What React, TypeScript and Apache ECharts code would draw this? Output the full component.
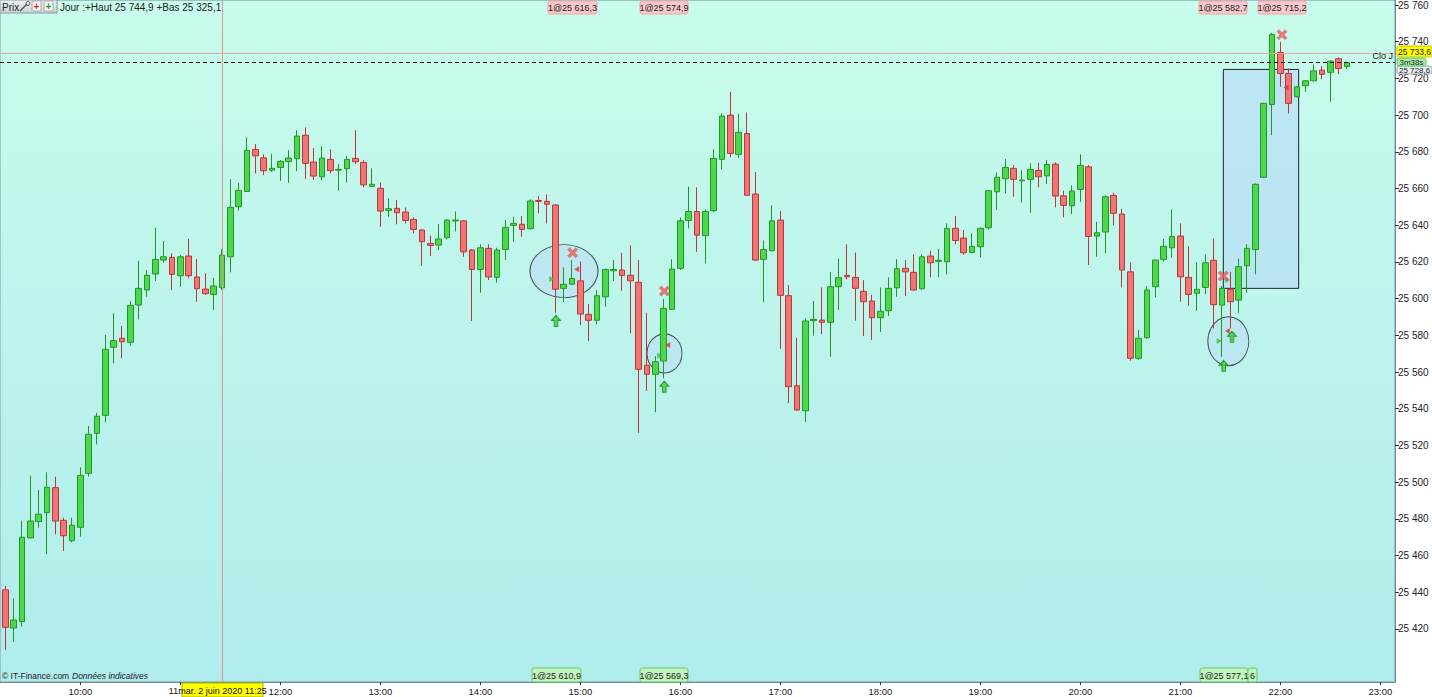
import React, { useEffect, useRef } from "react";
import * as echarts from "echarts";

// 5-minute candles, first one at 09:15 (minutes since midnight)
const START_MIN = 555;
const STEP_MIN = 5;

const opens = [
  25441.3, 25420.5, 25424.0, 25469.6, 25478.5, 25483.4, 25497.0, 25479.2, 25468.1, 25475.4,
  25504.8, 25526.6, 25536.4, 25573.5, 25578.4, 25576.2, 25596.5, 25604.7, 25613.4, 25621.0,
  25622.5, 25612.5, 25623.2, 25611.8, 25605.2, 25602.3, 25605.9, 25622.8, 25650.1, 25658.4,
  25681.3, 25676.7, 25670.0, 25671.5, 25674.6, 25676.2, 25689.1, 25674.4, 25666.4, 25675.9,
  25670.0, 25670.8, 25676.4, 25674.2, 25661.2, 25660.1, 25648.1, 25649.2, 25647.2, 25643.2,
  25637.4, 25630.1, 25629.2, 25633.2, 25642.3, 25642.4, 25626.5, 25615.9, 25627.4, 25611.6,
  25626.8, 25639.9, 25640.5, 25638.1, 25653.5, 25653.0, 25651.0, 25605.6, 25607.9, 25609.7,
  25591.4, 25588.2, 25601.0, 25615.2, 25615.6, 25612.7, 25608.9, 25563.7, 25558.8, 25566.0,
  25594.2, 25616.5, 25642.6, 25647.5, 25634.3, 25647.9, 25675.9, 25700.0, 25678.6, 25690.0,
  25657.0, 25621.4, 25626.1, 25642.8, 25601.6, 25552.5, 25538.9, 25588.0, 25588.3, 25587.1,
  25606.5, 25612.7, 25611.6, 25604.0, 25598.7, 25589.6, 25593.4, 25605.9, 25616.5, 25614.3,
  25605.4, 25623.2, 25620.3, 25620.1, 25638.3, 25633.0, 25625.2, 25628.3, 25638.6, 25658.2,
  25665.3, 25671.0, 25664.2, 25665.0, 25669.9, 25666.9, 25673.3, 25656.0, 25650.6, 25659.5,
  25671.8, 25634.1, 25636.3, 25656.3, 25646.1, 25614.6, 25567.5, 25578.7, 25606.5, 25621.4,
  25627.7, 25634.1, 25611.6, 25602.9, 25606.1, 25620.9, 25596.5, 25605.1, 25599.2, 25617.9,
  25626.8, 25666.1, 25705.8, 25734.2, 25722.7, 25710.0, 25716.0, 25718.7, 25724.5, 25723.3,
  25730.7, 25726.5,
];

const highs = [
  25443.4, 25436.7, 25479.0, 25503.5, 25495.7, 25505.4, 25503.0, 25480.6, 25480.6, 25508.1,
  25530.6, 25537.8, 25580.2, 25592.0, 25585.1, 25598.7, 25620.6, 25615.6, 25638.6, 25631.4,
  25624.7, 25623.7, 25632.5, 25621.6, 25613.8, 25611.4, 25627.0, 25665.0, 25663.0, 25687.9,
  25684.2, 25678.6, 25678.9, 25675.5, 25680.9, 25691.8, 25693.3, 25682.0, 25683.1, 25681.3,
  25673.3, 25677.7, 25691.8, 25675.5, 25671.0, 25663.3, 25654.6, 25653.7, 25649.7, 25644.3,
  25637.9, 25634.3, 25640.6, 25643.2, 25647.5, 25642.8, 25627.0, 25629.6, 25629.6, 25627.7,
  25642.8, 25644.6, 25645.1, 25654.1, 25655.9, 25656.8, 25651.5, 25617.0, 25621.0, 25620.1,
  25597.0, 25604.7, 25616.4, 25621.0, 25625.0, 25629.0, 25621.0, 25592.3, 25568.7, 25599.9,
  25621.4, 25644.3, 25661.0, 25660.6, 25648.6, 25681.3, 25700.9, 25712.7, 25700.6, 25701.5,
  25669.0, 25631.7, 25650.8, 25647.7, 25607.4, 25578.7, 25589.3, 25598.7, 25606.1, 25614.5,
  25621.9, 25629.6, 25625.2, 25610.1, 25602.0, 25606.1, 25611.6, 25621.6, 25621.0, 25624.1,
  25624.1, 25626.1, 25627.0, 25641.0, 25645.0, 25637.4, 25635.6, 25638.8, 25659.2, 25668.8,
  25676.0, 25672.8, 25670.0, 25673.7, 25674.0, 25675.5, 25674.2, 25658.8, 25661.7, 25678.6,
  25672.8, 25641.9, 25656.3, 25657.7, 25649.0, 25619.8, 25582.9, 25606.9, 25621.3, 25632.5,
  25648.6, 25641.0, 25628.6, 25619.8, 25624.1, 25632.8, 25606.9, 25614.6, 25621.9, 25629.7,
  25662.8, 25706.7, 25744.9, 25739.9, 25725.4, 25715.8, 25719.1, 25727.6, 25726.7, 25730.0,
  25731.4, 25729.2,
];

const lows = [
  25408.6, 25412.9, 25421.3, 25469.4, 25475.2, 25460.7, 25471.6, 25462.5, 25467.2, 25470.3,
  25503.0, 25520.6, 25532.6, 25564.7, 25567.5, 25574.3, 25588.7, 25601.0, 25609.7, 25619.5,
  25604.7, 25606.5, 25611.0, 25598.3, 25602.0, 25593.8, 25604.7, 25614.3, 25647.9, 25658.1,
  25668.2, 25667.3, 25669.1, 25664.1, 25663.1, 25669.5, 25665.1, 25664.6, 25664.6, 25668.2,
  25658.8, 25663.3, 25673.3, 25660.6, 25660.8, 25639.2, 25644.6, 25640.5, 25641.0, 25635.6,
  25617.8, 25623.2, 25626.5, 25632.3, 25636.6, 25622.8, 25587.8, 25603.2, 25610.1, 25608.7,
  25621.0, 25631.0, 25633.7, 25637.7, 25646.5, 25641.0, 25592.3, 25598.1, 25607.4, 25585.6,
  25576.9, 25586.0, 25595.6, 25609.6, 25604.3, 25581.1, 25526.9, 25549.7, 25538.1, 25556.6,
  25593.8, 25615.6, 25638.3, 25625.5, 25619.2, 25647.0, 25670.4, 25677.0, 25676.7, 25655.9,
  25620.5, 25598.1, 25625.6, 25572.7, 25543.0, 25538.8, 25532.9, 25579.8, 25580.7, 25568.3,
  25593.8, 25610.5, 25588.0, 25579.6, 25577.4, 25581.8, 25590.5, 25601.0, 25601.4, 25604.4,
  25604.9, 25611.6, 25611.6, 25613.2, 25629.6, 25623.9, 25624.7, 25622.5, 25637.4, 25648.3,
  25657.4, 25655.5, 25652.4, 25646.8, 25660.6, 25662.4, 25649.7, 25644.3, 25646.1, 25652.8,
  25618.3, 25622.8, 25624.7, 25639.9, 25606.1, 25566.2, 25566.5, 25578.2, 25600.7, 25620.1,
  25622.3, 25598.3, 25596.1, 25593.4, 25602.5, 25583.8, 25568.3, 25583.8, 25592.3, 25603.2,
  25613.2, 25665.7, 25689.1, 25715.4, 25700.9, 25709.6, 25712.7, 25718.3, 25719.6, 25707.3,
  25722.3, 25725.1,
];

const closes = [
  25420.9, 25424.9, 25470.0, 25478.8, 25482.5, 25497.2, 25478.8, 25470.8, 25476.5, 25503.7,
  25526.1, 25535.9, 25572.4, 25577.1, 25576.5, 25596.3, 25605.6, 25612.7, 25621.4, 25622.8,
  25613.2, 25622.8, 25612.5, 25605.4, 25602.7, 25606.9, 25623.7, 25649.7, 25659.0, 25680.8,
  25677.8, 25669.7, 25671.0, 25674.8, 25676.6, 25688.6, 25673.7, 25666.8, 25676.6, 25669.7,
  25670.4, 25675.9, 25674.6, 25662.0, 25662.3, 25647.7, 25649.0, 25646.8, 25642.6, 25637.7,
  25631.0, 25629.0, 25632.5, 25642.8, 25642.8, 25625.5, 25615.9, 25627.7, 25611.8, 25626.5,
  25638.8, 25641.0, 25637.7, 25653.2, 25653.0, 25651.4, 25605.1, 25607.8, 25611.0, 25591.6,
  25588.2, 25601.6, 25615.9, 25615.9, 25612.7, 25609.7, 25561.5, 25558.8, 25565.6, 25594.7,
  25616.1, 25642.4, 25647.5, 25634.6, 25647.5, 25676.4, 25699.5, 25679.1, 25690.6, 25656.3,
  25621.0, 25626.8, 25642.4, 25601.8, 25552.0, 25539.3, 25587.8, 25588.7, 25587.1, 25606.5,
  25611.4, 25611.9, 25605.6, 25598.3, 25589.6, 25593.1, 25605.6, 25616.3, 25614.6, 25604.7,
  25622.8, 25619.5, 25620.9, 25638.3, 25631.7, 25625.0, 25628.5, 25638.3, 25658.8, 25666.1,
  25671.5, 25665.0, 25664.6, 25670.4, 25666.4, 25673.1, 25655.9, 25650.8, 25658.6, 25672.6,
  25633.9, 25635.9, 25655.5, 25646.5, 25615.6, 25567.5, 25578.4, 25604.7, 25621.0, 25628.5,
  25633.9, 25611.9, 25602.3, 25605.1, 25619.5, 25596.7, 25605.6, 25598.3, 25617.4, 25627.4,
  25662.3, 25706.4, 25744.0, 25722.7, 25706.4, 25715.4, 25718.7, 25724.1, 25722.2, 25729.4,
  25725.4, 25728.6,
];

// axis ticks (minutes since midnight / price)
const X_TICKS = [600, 660, 720, 780, 840, 900, 960, 1020, 1080, 1140, 1200, 1260, 1320, 1380];
// 11:00 label is hidden under the cursor date box; shown as a truncated "11:" text instead
const X_LABELS = [600, 720, 780, 840, 900, 960, 1020, 1080, 1140, 1200, 1260, 1320, 1380];
const Y_TICKS = [
  25420, 25440, 25460, 25480, 25500, 25520, 25540, 25560, 25580, 25600,
  25620, 25640, 25660, 25680, 25700, 25720, 25740, 25760,
];

// trade markers: [minute, price]
const sellMarks = [[895.4, 25625.0], [950.4, 25604.1], [1285.8, 25612.3], [1321.0, 25743.8]];
const buyArrows = [[885.4, 25587.9], [950.4, 25552.0], [1291.0, 25579.2], [1286.0, 25563.4]];
const exitTris = [[897.8, 25616.0], [952.4, 25574.7], [1288.2, 25582.3], [1323.4, 25715.1]];
const entryTris = [[882.8, 25610.7], [947.6, 25568.9], [1288.4, 25610.1], [1283.4, 25576.9]];
// drawn ellipses: [minute, price, widthPx, heightPx]
const ellipses = [[890.2, 25615.0, 68, 53], [950.5, 25570.2, 35, 39], [1288.8, 25576.8, 41, 49]];
// drawn rectangle: minute range & price range
const boxMinutes = [1285.8, 1331.0];
const boxPrices = [25724.9, 25605.6];

const PREV_CLOSE = 25733.6;
const LAST_PRICE = 25728.6;
const CURSOR_MIN = 685; // 11:25

const X_MIN = 551.8;
const X_MAX = 1388.8;
const Y_MIN = 25391.1;
const Y_MAX = 25762.65;

const FONT = "Liberation Sans, Arial, sans-serif";

const fmtPrice = (v: number) => {
  const t = Math.floor(v / 1000);
  const r = Math.round(v - t * 1000);
  return `${t} ${String(r).padStart(3, "0")}`;
};
const fmtTime = (m: number) => `${Math.floor(m / 60)}:${String(Math.round(m % 60)).padStart(2, "0")}`;

function labelBox(
  x: number, y: number, w: number, h: number, text: string, fill: string, stroke: string, size = 9
) {
  return {
    type: "group",
    z: 100,
    children: [
      { type: "rect", shape: { x, y, width: w, height: h, r: 2 }, style: { fill, stroke, lineWidth: 1 }, z: 100 },
      {
        type: "text",
        x: x + w / 2,
        y: y + h / 2 + 0.5,
        style: { text, fill: "#222", font: `${size}px ${FONT}`, align: "center", verticalAlign: "middle" },
        z: 101,
      },
    ],
  };
}

export default function App() {
  const ref = useRef<HTMLDivElement>(null);

  useEffect(() => {
    if (!ref.current) return;
    const chart = echarts.init(ref.current, undefined, { renderer: "svg" });

    const candleData = opens.map((o, i) => [START_MIN + i * STEP_MIN, o, closes[i], lows[i], highs[i]]);

    const pink = "#f9c9cd";
    const pinkB = "#eea3ab";
    const greenL = "#c4f4c0";
    const greenB = "#62d062";

    const option: any = {
      animation: false,
      backgroundColor: "#ffffff",
      textStyle: { fontFamily: FONT },
      grid: {
        left: 0,
        right: 37,
        top: 0,
        bottom: 15,
        show: true,
        borderColor: "#7f9ca6",
        borderWidth: 1,
        backgroundColor: new echarts.graphic.LinearGradient(0, 0, 0, 1, [
          { offset: 0, color: "#c8fcec" },
          { offset: 1, color: "#b0ecec" },
        ]),
      },
      xAxis: {
        type: "value",
        min: X_MIN,
        max: X_MAX,
        axisLine: { show: true, lineStyle: { color: "#6f8d99" } },
        axisTick: { show: true, customValues: X_TICKS, length: 3, lineStyle: { color: "#333" } },
        axisLabel: {
          customValues: X_LABELS,
          formatter: (v: number) => fmtTime(v),
          color: "#222",
          fontSize: 9.5,
          fontFamily: FONT,
          margin: 4,
        },
        splitLine: { show: false },
      },
      yAxis: {
        type: "value",
        position: "right",
        min: Y_MIN,
        max: Y_MAX,
        axisLine: { show: true, lineStyle: { color: "#6f8d99" } },
        axisTick: { show: true, customValues: Y_TICKS, length: 4, lineStyle: { color: "#333" } },
        axisLabel: {
          customValues: Y_TICKS,
          formatter: (v: number) => fmtPrice(v),
          color: "#222",
          fontSize: 10,
          fontFamily: FONT,
          margin: 3,
        },
        splitLine: { show: false },
      },
      series: [
        {
          type: "scatter",
          name: "ellipses",
          z: 1,
          silent: true,
          data: ellipses.map((e) => ({ value: [e[0], e[1]], symbolSize: [e[2], e[3]] })),
          symbol: "circle",
          itemStyle: { color: "rgba(185,222,245,0.72)", borderColor: "#2a2a2a", borderWidth: 1 },
          markArea: {
            silent: true,
            itemStyle: { color: "rgba(185,222,245,0.72)", borderColor: "#222", borderWidth: 1 },
            data: [[{ xAxis: boxMinutes[0], yAxis: boxPrices[0] }, { xAxis: boxMinutes[1], yAxis: boxPrices[1] }]],
          },
          markLine: {
            silent: true,
            symbol: "none",
            label: { show: false },
            data: [
              { xAxis: CURSOR_MIN, lineStyle: { color: "#f09090", type: "solid", width: 1 } },
              { yAxis: PREV_CLOSE, lineStyle: { color: "#e8a0a0", type: "solid", width: 1 } },
            ],
          },
        },
        {
          type: "candlestick",
          z: 2,
          barWidth: 6,
          data: candleData,
          encode: { x: 0, y: [1, 2, 3, 4] },
          itemStyle: {
            color: "#4fd64f",
            color0: "#f07676",
            borderColor: "#1f9a1f",
            borderColor0: "#bf3434",
            borderWidth: 1,
          },
          markLine: {
            silent: true,
            symbol: "none",
            label: { show: false },
            data: [{ yAxis: LAST_PRICE, lineStyle: { color: "#111", type: [4, 3], width: 1 } }],
          },
        },
        {
          type: "scatter",
          z: 5,
          silent: true,
          data: entryTris,
          symbol: "path://M0,0 L10,5 L0,10 Z",
          symbolSize: [5, 6],
          itemStyle: { color: "#2fc02f" },
        },
        {
          type: "scatter",
          z: 5,
          silent: true,
          data: exitTris,
          symbol: "path://M10,0 L10,10 L0,5 Z",
          symbolSize: [5, 6],
          itemStyle: { color: "#e03030" },
        },
        {
          type: "scatter",
          z: 6,
          silent: true,
          data: buyArrows,
          symbol: "path://M5,0 L10,5 L7,5 L7,11 L3,11 L3,5 L0,5 Z",
          symbolSize: [9, 11],
          itemStyle: { color: "#3ccc3c", borderColor: "#168a16", borderWidth: 1 },
        },
        {
          type: "scatter",
          z: 6,
          silent: true,
          data: sellMarks,
          symbol: "path://M2,0 L5,3 L8,0 L10,2 L7,5 L10,8 L8,10 L5,7 L2,10 L0,8 L3,5 L0,2 Z",
          symbolSize: 10,
          itemStyle: { color: "#ee5a5a", borderColor: "#d23a3a", borderWidth: 0.5 },
        },
      ],
      graphic: [
        // header
        {
          type: "rect",
          z: 100,
          shape: { x: 0, y: 0, width: 57, height: 13 },
          style: {
            fill: new echarts.graphic.LinearGradient(0, 0, 0, 1, [
              { offset: 0, color: "#eef2f4" },
              { offset: 1, color: "#c9d2d6" },
            ]),
            stroke: "#8a9aa2",
          },
        },
        { type: "text", z: 101, x: 2, y: 7, style: { text: "Prix", font: `10px ${FONT}`, fill: "#222", verticalAlign: "middle" } },
        { type: "line", z: 101, shape: { x1: 20, y1: 11, x2: 27, y2: 4 }, style: { stroke: "#555", lineWidth: 1.5 } },
        { type: "circle", z: 101, shape: { cx: 28, cy: 3.5, r: 2 }, style: { fill: "none", stroke: "#555", lineWidth: 1 } },
        { type: "rect", z: 101, shape: { x: 32, y: 1, width: 9, height: 10 }, style: { fill: "#fafafa", stroke: "#aaa" } },
        { type: "text", z: 102, x: 36.5, y: 6.5, style: { text: "+", font: `bold 10px ${FONT}`, fill: "#e02020", align: "center", verticalAlign: "middle" } },
        { type: "rect", z: 101, shape: { x: 44, y: 1, width: 9, height: 10 }, style: { fill: "#fafafa", stroke: "#aaa" } },
        { type: "text", z: 102, x: 48.5, y: 6.5, style: { text: "+", font: `bold 10px ${FONT}`, fill: "#20a020", align: "center", verticalAlign: "middle" } },
        {
          type: "text",
          z: 101,
          x: 60,
          y: 7,
          style: { text: "Jour :+Haut 25 744,9 +Bas 25 325,1", font: `10px ${FONT}`, fill: "#222", verticalAlign: "middle" },
        },
        // top order labels
        labelBox(548, 1, 49, 13, "1@25 616,3", pink, pinkB),
        labelBox(640, 1, 48, 13, "1@25 574,9", pink, pinkB),
        labelBox(1199, 1, 48, 13, "1@25 582,7", pink, pinkB),
        labelBox(1258, 1, 48, 13, "1@25 715,2", pink, pinkB),
        // bottom order labels
        labelBox(532, 668, 49, 14, "1@25 610,9", greenL, greenB),
        labelBox(640, 668, 48, 14, "1@25 569,3", greenL, greenB),
        labelBox(1200, 668, 48, 14, "1@25 577,1", greenL, greenB),
        labelBox(1248, 668, 9, 14, "6", greenL, greenB),
        // copyright
        {
          type: "text",
          z: 101,
          x: 2,
          y: 676,
          style: { text: "© IT-Finance.com", font: `8.5px ${FONT}`, fill: "#222", verticalAlign: "middle" },
        },
        {
          type: "text",
          z: 101,
          x: 72,
          y: 676,
          style: { text: "Données indicatives", font: `italic 8.5px ${FONT}`, fill: "#222", verticalAlign: "middle" },
        },
        // truncated 11:00 label beside the cursor date box
        {
          type: "text",
          z: 101,
          x: 181,
          y: 690,
          style: { text: "11:", font: `9.5px ${FONT}`, fill: "#222", align: "right", verticalAlign: "middle" },
        },
        // cursor date label
        {
          type: "rect",
          z: 100,
          shape: { x: 182, y: 683, width: 81, height: 14 },
          style: { fill: "#ffff00", stroke: "#b0b000" },
        },
        {
          type: "text",
          z: 101,
          x: 222.5,
          y: 690.5,
          style: { text: "mar. 2 juin 2020 11:25", font: `9px ${FONT}`, fill: "#111", align: "center", verticalAlign: "middle" },
        },
        // right price labels
        { type: "text", z: 101, x: 1393, y: 56, style: { text: "Clo J", font: `9px ${FONT}`, fill: "#222", align: "right", verticalAlign: "middle" } },
        labelBox(1397, 66, 35, 8, "25 728,6", "#e9f1f3", "#9ab", 8),
        labelBox(1397, 46, 35, 11, "25 733,6", "#ffff00", "#c8c800", 8.5),
        labelBox(1397, 58, 29, 8, "3m38s", "#a8eca8", "#6c6", 8),
      ],
    };

    chart.setOption(option);
    return () => chart.dispose();
  }, []);

  return (
    <div
      ref={ref}
      style={{ position: "fixed", left: 0, top: 0, width: 1432, height: 697, background: "#fff" }}
    />
  );
}
